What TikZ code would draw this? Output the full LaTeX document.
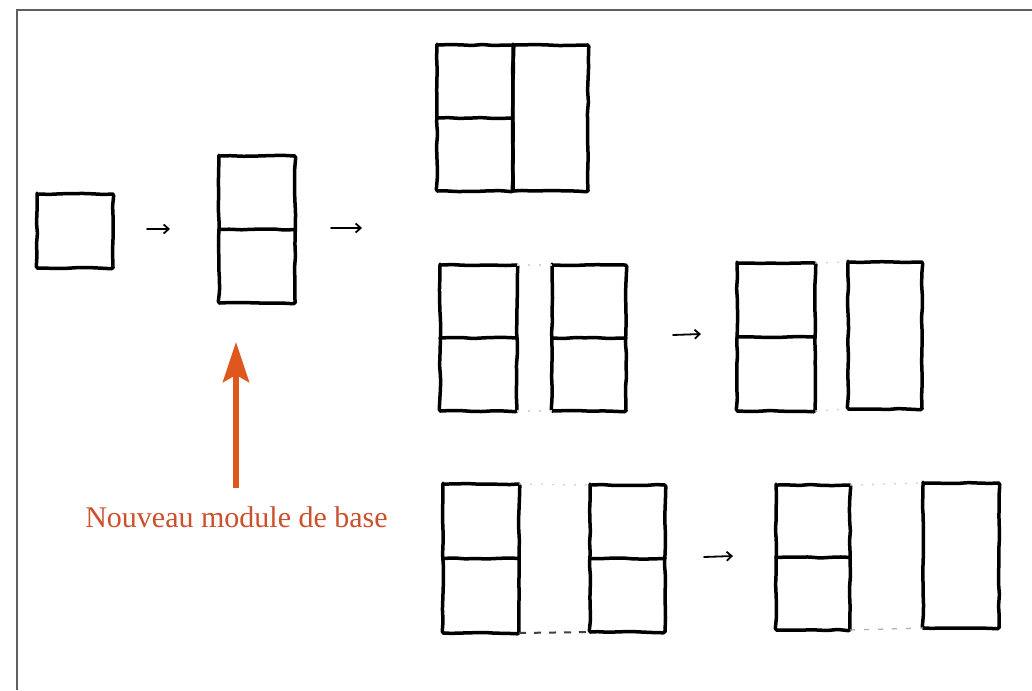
\documentclass[tikz,border=0pt]{standalone}
\usepackage{fontspec}
\newfontfamily\labelfont{Liberation Serif}
\usetikzlibrary{arrows.meta,decorations.pathmorphing}
\definecolor{redlabel}{RGB}{205,80,45}
\definecolor{redarrow}{RGB}{222,88,30}
\definecolor{framegray}{RGB}{95,95,95}
\newcommand\handbox[1]{\draw[ink,wob] (#1.north west) -- (#1.north east) -- (#1.south east) -- (#1.south west) -- cycle;}
\newcommand\handmid[1]{\draw[ink,wob] (#1.west) -- (#1.east);}
\begin{document}
\begin{tikzpicture}[x=1pt,y=-1pt,
  ink/.style={line width=3.5pt, draw=black, line cap=round, line join=round},
  wob/.style={decorate, decoration={random steps, segment length=11pt, amplitude=0.6pt}, rounded corners=1.5pt},
  slot/.style 2 args={rectangle, inner sep=0pt, outer sep=0pt, minimum width=#1pt, minimum height=#2pt},
  smallarrow/.style={line width=1.8pt, line cap=round, -{Straight Barb[length=5pt,width=9pt]}},
  faint/.style={gray!35, line width=1.3pt, dash pattern=on 2pt off 9pt},
  trace/.style={black!75, line width=2pt, dash pattern=on 7pt off 8pt},
]
\useasboundingbox (0,0) rectangle (1032,690);
\fill[white] (0,0) rectangle (1032,690);
\draw[framegray, line width=1.3pt] (17,690) -- (17,10) -- (1032,10);

% first stage
\node[slot={76}{74}] (S) at (75,231) {};
\node[slot={76}{147}] (M) at (257,229.5) {};
% top composite
\node[slot={76}{146}] (T1) at (475,118) {};
\node[slot={75}{146}] (T2) at (550.5,118) {};
% row 2
\node[slot={77}{146}] (A) at (478.5,338) {};
\node[slot={74}{146}] (B) at (589,338) {};
\node[slot={78}{148}] (C) at (776,337) {};
\node[slot={74}{147}] (D) at (885,335.5) {};
% row 3
\node[slot={76}{149}] (E) at (481,558.5) {};
\node[slot={75}{147}] (F) at (627.5,558.5) {};
\node[slot={74}{145}] (G) at (813,557.5) {};
\node[slot={76}{145}] (H) at (961,555.5) {};

\handbox{S}
\handbox{M}\handmid{M}
\handbox{T1}\handmid{T1}
\handbox{T2}
\handbox{A}\handmid{A}
\handbox{B}\handmid{B}
\handbox{C}\handmid{C}
\handbox{D}
\handbox{E}\handmid{E}
\handbox{F}\handmid{F}
\handbox{G}\handmid{G}
\handbox{H}

% faint traces between modules
\draw[faint] (A.north east) -- (B.north west);
\draw[faint] (A.south east) -- (B.south west);
\draw[faint] (C.north east) -- (D.north west);
\draw[faint] (C.south east) -- (D.south west);
\draw[faint] (E.north east) -- (F.north west);
\draw[trace] (E.south east) -- (F.south west);
\draw[faint] (G.north east) -- (H.north west);
\draw[faint, gray!60, dash pattern=on 5pt off 9pt] (G.south east) -- (H.south west);

% small arrows
\coordinate (a1s) at (147,229); \coordinate (a1e) at (170,229);
\coordinate (a2s) at (331,228); \coordinate (a2e) at (362,228);
\coordinate (a3s) at (673,335); \coordinate (a3e) at (701,334);
\coordinate (a4s) at (704,557); \coordinate (a4e) at (733,556);
\draw[smallarrow] (a1s) -- (a1e);
\draw[smallarrow] (a2s) -- (a2e);
\draw[smallarrow] (a3s) -- (a3e);
\draw[smallarrow] (a4s) -- (a4e);

% red arrow and label
\coordinate (rb) at (236,488);
\coordinate (rt) at (236,342);
\draw[redarrow, line width=6pt, -{Stealth[length=40pt,width=26pt,inset=7pt]}] (rb) -- (rt);
\node[text=redlabel, font=\labelfont\fontsize{30}{36}\selectfont, anchor=base, inner sep=0pt] (lab) at (236.5,527) {Nouveau module de base};
\end{tikzpicture}
\end{document}
